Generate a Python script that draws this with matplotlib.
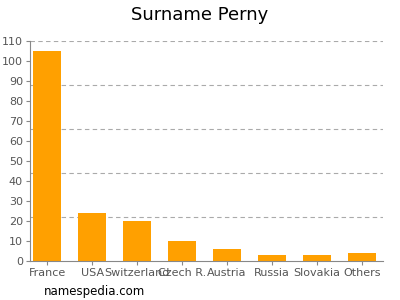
import matplotlib
matplotlib.use("Agg")
import matplotlib.pyplot as plt

countries = ["France", "USA", "Switzerland", "Czech R.", "Austria", "Russia", "Slovakia", "Others"]
counts = [105, 24, 20, 10, 6, 3, 3, 4]
y_ticks = list(range(0, 111, 10))
grid_levels = [22, 44, 66, 88, 110]

BAR_COLOR = "#ffa000"
GRAY = "#888888"

fig = plt.figure(figsize=(4, 3), dpi=100)
ax = fig.add_axes([0.075, 0.13, 0.883, 0.733])

# dashed grid lines (not on tick values)
for g in grid_levels:
    ax.axhline(g, color="#aaaaaa", linestyle=(0, (4, 3)), linewidth=0.8, zorder=0)

ax.bar(range(len(countries)), counts, width=0.62, color=BAR_COLOR, zorder=2)

ax.set_xlim(-0.38, 7.47)
ax.set_ylim(0, 110)
ax.set_yticks(y_ticks)
ax.set_xticks(range(len(countries)))
ax.set_xticklabels(countries)

for side in ["top", "right"]:
    ax.spines[side].set_visible(False)
for side in ["left", "bottom"]:
    ax.spines[side].set_color(GRAY)
    ax.spines[side].set_linewidth(0.8)

ax.tick_params(axis="both", colors=GRAY, labelcolor="#555555", labelsize=8, length=3, width=0.8, pad=2)

fig.text(0.5, 0.95, "Surname Perny", ha="center", va="center", fontsize=13)
fig.text(0.11, 0.027, "namespedia.com", ha="left", va="center", fontsize=8.5)

fig.savefig("out.png")
